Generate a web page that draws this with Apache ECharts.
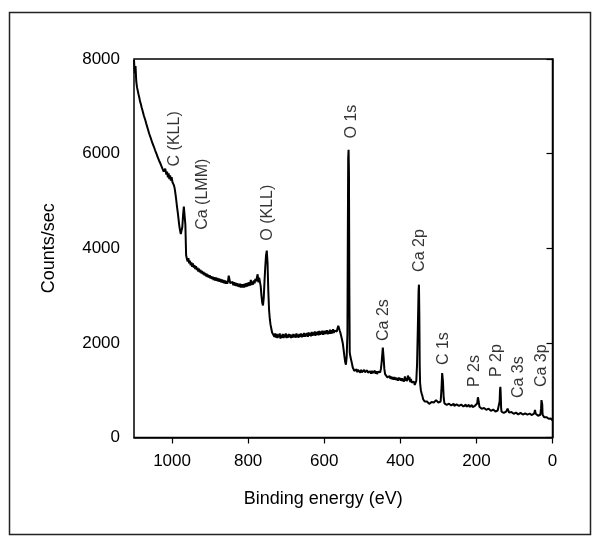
<!DOCTYPE html>
<html>
<head>
<meta charset="utf-8">
<script src="https://cdn.jsdelivr.net/npm/echarts@6/dist/echarts.min.js"></script>
<style>
html,body{margin:0;padding:0;background:#fff;}
#chart{width:595px;height:539px;}
</style>
</head>
<body>
<div id="chart"></div>
<script>
// XPS survey spectrum: [binding energy (eV), counts/sec]
const spectrum = [
[1100,7980],[1098,7700],[1096,7850],[1094,7520],[1092,7400],[1090,7430],[1088,7250],[1086,7180],
[1084,7100],[1082,7050],[1080,6980],[1078,6920],[1076,6880],[1074,6800],[1072,6760],[1070,6700],
[1068,6640],[1066,6600],[1064,6530],[1062,6490],[1060,6420],[1058,6390],[1056,6330],[1054,6290],
[1052,6230],[1050,6200],[1048,6150],[1046,6110],[1044,6060],[1042,6020],[1040,5980],[1038,5930],
[1036,5900],[1034,5850],[1032,5820],[1030,5780],[1028,5740],[1026,5700],[1024,5660],[1022,5620],
[1020,5600],[1018,5680],[1016,5720],[1015,5560],[1013,5620],[1011,5500],[1009,5580],[1007,5460],
[1005,5540],[1003,5430],[1001,5500],[999,5400],[997,5440],[995,5330],[993,5260],[991,5150],
[989,5020],[987,4880],[985,4760],[983,4620],[981,4480],[979,4380],[977,4300],[975,4280],
[973,4450],[971,4700],[969,4880],[967,4920],[965,4500],[963,3850],[961,3780],[959,3720],
[957,3790],[955,3680],[953,3740],[951,3640],[949,3700],[947,3610],[945,3680],[943,3590],
[941,3640],[939,3560],[937,3620],[935,3540],[933,3590],[931,3510],[929,3570],[927,3490],
[925,3540],[923,3470],[921,3520],[919,3450],[917,3500],[915,3430],[913,3480],[911,3410],
[909,3460],[907,3390],[905,3440],[903,3380],[901,3430],[899,3360],[897,3410],[895,3350],
[893,3400],[891,3330],[889,3390],[887,3320],[885,3380],[883,3310],[881,3370],[879,3300],
[877,3360],[875,3290],[873,3350],[871,3280],[869,3340],[867,3270],[865,3330],[863,3260],
[861,3320],[859,3250],[857,3310],[855,3250],[853,3300],[851,3420],[849,3460],[847,3260],
[845,3300],[843,3230],[841,3290],[839,3220],[837,3280],[835,3210],[833,3270],[831,3200],
[829,3260],[827,3190],[825,3250],[823,3180],[821,3250],[819,3170],[817,3240],[815,3170],
[813,3240],[811,3170],[809,3250],[807,3180],[805,3260],[803,3190],[801,3270],[799,3200],
[797,3280],[795,3210],[793,3330],[791,3220],[789,3300],[787,3230],[785,3320],[783,3260],
[781,3350],[779,3300],[777,3380],[775,3450],[773,3280],[771,3380],[769,3420],[767,3200],
[765,3000],[763,2850],[761,2790],[759,2950],[757,3300],[755,3600],[753,3850],[751,3950],
[749,3700],[747,3100],[745,2700],[743,2500],[741,2380],[739,2300],[737,2220],[735,2180],
[733,2230],[731,2130],[729,2200],[727,2110],[725,2190],[723,2100],[721,2180],[719,2120],
[717,2200],[715,2090],[713,2170],[711,2110],[709,2190],[707,2100],[705,2180],[703,2120],
[701,2200],[699,2100],[697,2170],[695,2110],[693,2190],[691,2120],[689,2180],[687,2100],
[685,2170],[683,2110],[681,2190],[679,2120],[677,2180],[675,2110],[673,2200],[671,2120],
[669,2180],[667,2110],[665,2190],[663,2130],[661,2200],[659,2120],[657,2190],[655,2130],
[653,2210],[651,2130],[649,2200],[647,2140],[645,2210],[643,2130],[641,2220],[639,2150],
[637,2210],[635,2140],[633,2230],[631,2150],[629,2220],[627,2160],[625,2240],[623,2150],
[621,2230],[619,2170],[617,2240],[615,2160],[613,2250],[611,2170],[609,2240],[607,2180],
[605,2260],[603,2170],[601,2250],[599,2180],[597,2260],[595,2190],[593,2270],[591,2180],
[589,2250],[587,2190],[585,2280],[583,2190],[581,2270],[579,2200],[577,2290],[575,2210],
[573,2260],[571,2220],[569,2300],[567,2240],[565,2310],[563,2360],[561,2380],[559,2250],
[557,2200],[555,2130],[553,2060],[551,1980],[549,1850],[547,1720],[545,1600],[543,1540],
[541,1700],[539,2200],[538,4200],[537,5900],[536,6080],[535,5600],[534,3200],[533,1800],
[531,1700],[529,1660],[527,1560],[525,1480],[523,1440],[521,1410],[519,1450],[517,1390],
[515,1440],[513,1380],[511,1430],[509,1390],[507,1440],[505,1370],[503,1430],[501,1380],
[499,1420],[497,1370],[495,1430],[493,1380],[491,1410],[489,1360],[487,1420],[485,1370],
[483,1410],[481,1360],[479,1400],[477,1350],[475,1410],[473,1360],[471,1400],[469,1350],
[467,1410],[465,1350],[463,1400],[461,1340],[459,1390],[457,1350],[455,1400],[453,1380],
[451,1450],[449,1600],[447,1800],[446,1900],[445,1880],[444,1700],[442,1450],[440,1340],
[438,1300],[436,1330],[434,1270],[432,1310],[430,1250],[428,1300],[426,1240],[424,1290],
[422,1230],[420,1280],[418,1220],[416,1280],[414,1220],[412,1270],[410,1210],[408,1260],
[406,1200],[404,1270],[402,1210],[400,1260],[398,1200],[396,1250],[394,1190],[392,1240],
[390,1180],[388,1290],[386,1200],[384,1260],[382,1190],[380,1310],[378,1220],[376,1280],
[374,1170],[372,1240],[370,1160],[368,1200],[366,1130],[364,1180],[362,1110],[360,1150],
[358,1200],[356,1550],[354,2300],[352,3100],[351,3230],[350,2600],[349,1500],[348,1150],
[346,1000],[344,930],[342,880],[340,810],[338,790],[336,760],[334,780],[332,730],
[330,760],[328,720],[326,750],[324,710],[322,740],[320,720],[318,750],[316,730],
[314,760],[312,740],[310,770],[308,760],[306,790],[304,830],[302,780],[300,740],
[298,720],[296,700],[294,760],[292,1000],[290,1360],[289,1370],[288,1200],[286,840],
[284,720],[282,700],[280,730],[278,690],[276,720],[274,680],[272,715],[270,685],
[268,720],[266,675],[264,710],[262,680],[260,715],[258,670],[256,705],[254,675],
[252,700],[250,665],[248,700],[246,670],[244,705],[242,660],[240,695],[238,665],
[236,700],[234,655],[232,690],[230,660],[228,695],[226,650],[224,685],[222,655],
[220,690],[218,645],[216,680],[214,650],[212,685],[210,640],[208,675],[206,645],
[204,670],[202,640],[200,665],[198,720],[196,850],[195,865],[194,760],[192,650],
[190,620],[188,650],[186,605],[184,635],[182,600],[180,625],[178,590],[176,620],
[174,585],[172,615],[170,580],[168,610],[166,575],[164,600],[162,565],[160,595],
[158,560],[156,590],[154,555],[152,580],[150,550],[148,575],[146,545],[144,570],
[142,540],[140,580],[139,760],[138,1000],[137,1070],[136,900],[135,620],[134,545],
[132,530],[130,560],[128,520],[126,550],[124,515],[122,545],[120,570],[118,610],
[116,580],[114,525],[112,545],[110,510],[108,540],[106,505],[104,535],[102,500],
[100,530],[98,500],[96,525],[94,495],[92,525],[90,490],[88,520],[86,495],
[84,520],[82,490],[80,515],[78,485],[76,515],[74,490],[72,510],[70,480],
[68,510],[66,485],[64,505],[62,480],[60,505],[58,475],[56,500],[54,475],
[52,500],[50,470],[48,510],[46,580],[45,600],[44,500],[42,470],[40,490],
[38,460],[36,480],[34,450],[32,480],[30,620],[29,790],[28,825],[27,700],
[26,480],[24,450],[22,430],[20,445],[18,420],[16,430],[14,405],[12,420],
[10,395],[8,410],[6,390],[4,400],[2,375],[0,360]
];

// Peak annotations: name, energy (eV) of label, counts at label's lower end
const peakNames  = ['C (KLL)', 'Ca (LMM)', 'O (KLL)', 'O 1s', 'Ca 2s', 'Ca 2p', 'C 1s', 'P 2s', 'P 2p', 'Ca 3s', 'Ca 3p'];
const peakEnergy = [993, 920, 749, 528, 445, 349, 287, 204, 147, 90, 28];
const peakLabelBase = [5730, 4390, 4160, 6320, 2040, 3500, 1530, 1066, 1278, 833, 1066];

// Axis ticks
const xTicks = [0, 200, 400, 600, 800, 1000];
const yTicks = [0, 2000, 4000, 6000, 8000];

const FONT = '"Liberation Sans", Arial, Helvetica, sans-serif';
const chart = echarts.init(document.getElementById('chart'), null, {renderer: 'canvas'});

const labelData = peakNames.map((n, i) => ({ value: [peakEnergy[i], peakLabelBase[i]], name: n }));

chart.setOption({
  animation: false,
  backgroundColor: '#fff',
  graphic: [{
    type: 'rect', left: 7, top: 10, z: 100, silent: true,
    shape: { width: 581, height: 522 },
    style: { fill: null, stroke: '#222', lineWidth: 1.5 }
  }],
  grid: {
    left: 134, right: 42.5, top: 59, bottom: 101.5,
    show: true, borderColor: '#000', borderWidth: 1.5, backgroundColor: 'transparent'
  },
  xAxis: {
    type: 'value', inverse: true, min: 0, max: 1100, interval: 200,
    name: 'Binding energy (eV)', nameLocation: 'middle', nameGap: 53,
    nameTextStyle: { fontFamily: FONT, fontSize: 18, color: '#000', padding: [0, 40, 0, 0] },
    axisLine: { show: true, lineStyle: { color: '#000', width: 1.5 } },
    axisTick: { show: true, inside: false, length: 6, customValues: xTicks, lineStyle: { color: '#000', width: 1.2 } },
    axisLabel: { customValues: xTicks, formatter: v => String(v), fontFamily: FONT, fontSize: 17, color: '#000', margin: 15 },
    splitLine: { show: false }
  },
  yAxis: {
    type: 'value', min: 0, max: 8000, interval: 2000,
    name: 'Counts/sec', nameLocation: 'middle', nameGap: 76, nameRotate: 90,
    nameTextStyle: { fontFamily: FONT, fontSize: 18, color: '#000' },
    axisLine: { show: true, lineStyle: { color: '#000', width: 1.5 } },
    axisTick: { show: true, inside: false, length: 6, customValues: yTicks, lineStyle: { color: '#000', width: 1.2 } },
    axisLabel: { customValues: yTicks, formatter: v => String(v), fontFamily: FONT, fontSize: 17, color: '#000', margin: 14 },
    splitLine: { show: false }
  },
  series: [
    {
      type: 'line', data: spectrum, showSymbol: false, symbol: 'none',
      lineStyle: { color: '#000', width: 2 }, clip: true, z: 3
    },
    {
      type: 'scatter', data: labelData, symbolSize: 0, silent: true, z: 5,
      label: {
        show: true, position: 'inside', rotate: 90, align: 'left', verticalAlign: 'middle',
        formatter: p => p.name, fontFamily: FONT, fontSize: 16, color: '#000'
      }
    }
  ]
});
</script>
</body>
</html>
